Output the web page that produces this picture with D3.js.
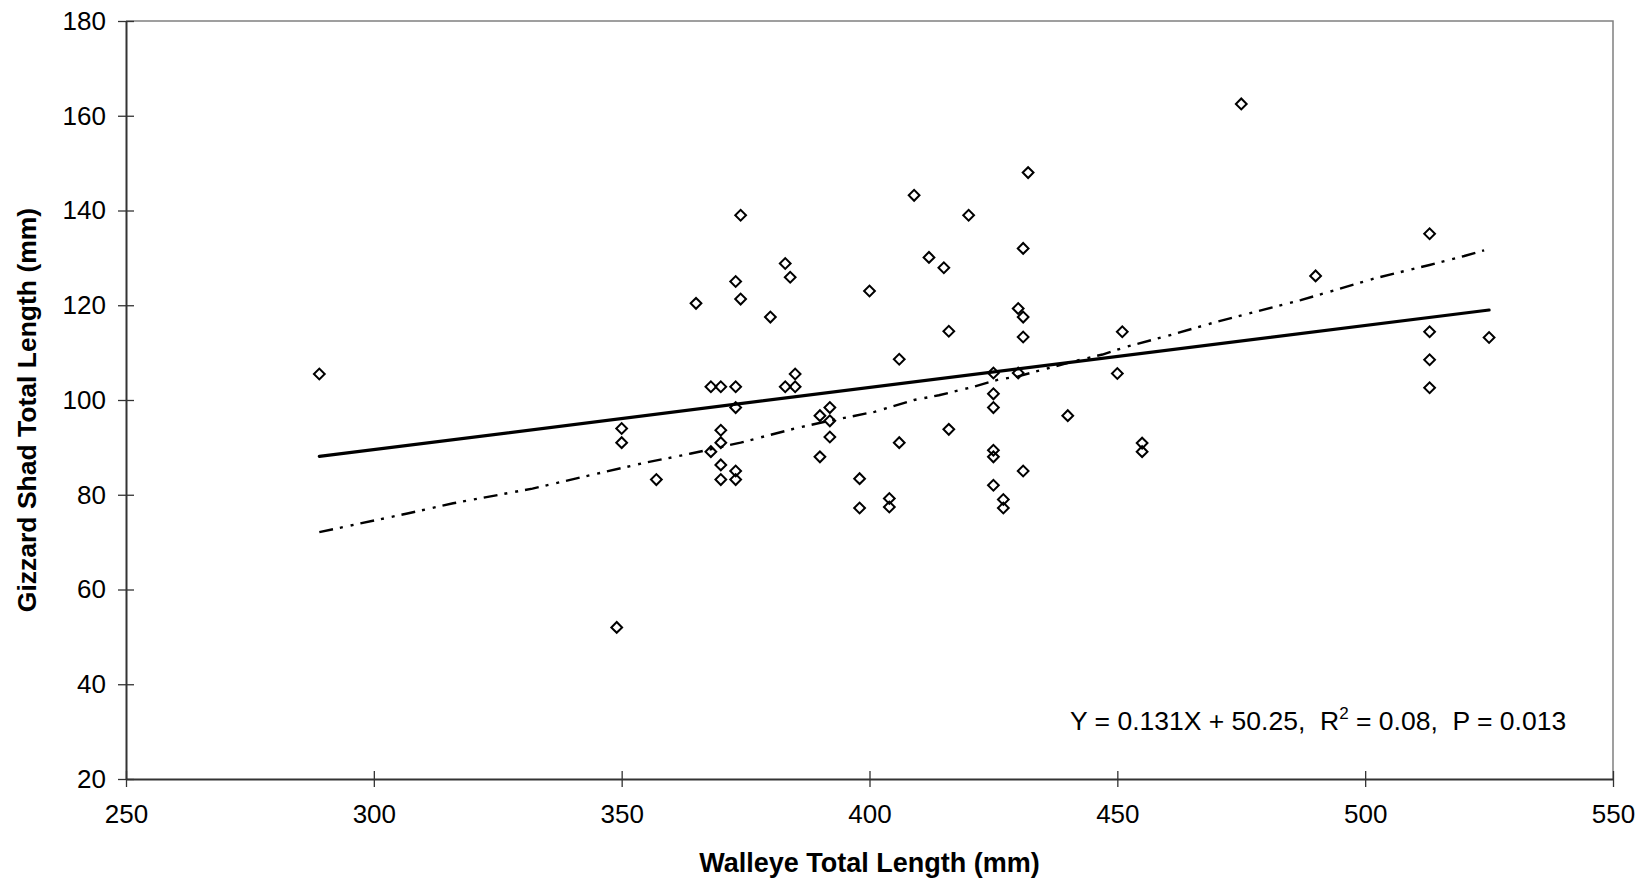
<!DOCTYPE html>
<meta charset="utf-8">
<script src="https://d3js.org/d3.v7.min.js"></script>
<style>
  body { margin: 0; background: #fff; }
  text { font-family: "Liberation Sans", Arial, sans-serif; }
</style>
<div id="chart"></div>
<script>
// walleye total length (x) vs gizzard shad total length (y)
var walleye = [289, 349, 350, 350, 357, 365, 368, 368, 370, 370, 370, 370, 370,
  373, 373, 373, 373, 373, 374, 374, 380, 383, 383, 384, 385, 385, 390, 390,
  392, 392, 392, 398, 398, 400, 404, 404, 406, 406, 409, 412, 415, 416, 416,
  420, 425, 425, 425, 425, 425, 425, 427, 427, 430, 430, 431, 431, 431, 431,
  432, 440, 450, 451, 455, 455, 475, 490, 513, 513, 513, 513, 525];
var shad = [105.5, 52, 94, 91, 83.2, 120.4, 102.8, 89.1, 102.8, 93.6, 91, 86.3, 83.2,
  125, 102.8, 98.4, 85, 83.2, 139, 121.3, 117.5, 128.8, 102.8, 125.9, 105.5, 102.8,
  96.7, 88, 98.4, 95.6, 92.2, 83.4, 77.2, 123, 79.2, 77.4, 108.6, 91, 143.2, 130.1,
  127.9, 114.5, 93.8, 139, 105.7, 101.3, 98.4, 89.4, 88, 82, 79, 77.2, 119.3, 105.7,
  132, 117.5, 113.3, 85, 148, 96.7, 105.6, 114.4, 90.9, 89.1, 162.5, 126.2, 135.1,
  114.4, 108.5, 102.6, 113.2];

// linear fit (solid)
var fitX = [289, 525];
var fitY = [88.1, 119.0];

// smoothed curve (dash-dot)
var smoothX = [289, 307, 316, 332, 344, 354, 364, 374, 385, 391, 401, 409, 414, 421,
  426, 430, 436, 441, 447, 452, 460, 469, 477, 487, 494, 502, 513, 520, 524];
var smoothY = [72.1, 76.1, 78.2, 81.3, 84.2, 86.6, 88.7, 91.0, 94.0, 95.4, 97.5, 100.0,
  101.0, 102.8, 104.3, 105.0, 106.7, 108.1, 109.6, 111.3, 113.5, 116.2, 118.4, 121.1,
  123.2, 125.7, 128.5, 130.4, 131.6];

var xTicks = [250, 300, 350, 400, 450, 500, 550];
var yTicks = [20, 40, 60, 80, 100, 120, 140, 160, 180];

var W = 1646, H = 880;
var margin = {top: 21, right: 33, bottom: 101, left: 126},
    width = W - margin.left - margin.right,
    height = H - margin.top - margin.bottom;

var svg = d3.select("#chart").append("svg")
    .attr("width", W)
    .attr("height", H);

var g = svg.append("g")
    .attr("transform", "translate(" + margin.left + "," + margin.top + ")");

var x = d3.scaleLinear().domain([250, 550]).range([0, width]);
var y = d3.scaleLinear().domain([20, 180]).range([height, 0]);

// plot frame (top and right)
g.append("path")
    .attr("d", "M0,0H" + width + "V" + height)
    .attr("fill", "none")
    .attr("stroke", "#808080")
    .attr("stroke-width", 1.5);

// axes
var yAxis = g.append("g")
    .call(d3.axisLeft(y).tickValues(yTicks).tickSizeInner(8).tickSizeOuter(0).tickPadding(12));
yAxis.selectAll(".tick line").attr("x1", 8);

var xAxis = g.append("g")
    .attr("transform", "translate(0," + height + ")")
    .call(d3.axisBottom(x).tickValues(xTicks).tickSizeInner(8).tickSizeOuter(0).tickPadding(18));
xAxis.selectAll(".tick line").attr("y1", -8);

[xAxis, yAxis].forEach(function(a) {
  a.select(".domain").attr("stroke", "#333").attr("stroke-width", 2);
  a.selectAll(".tick line").attr("stroke", "#333").attr("stroke-width", 1.3);
  a.selectAll(".tick text")
    .attr("fill", "#000")
    .style("font-size", "26px")
    .style("font-family", '"Liberation Sans", Arial, sans-serif');
});

// points
var pts = walleye.map(function(d, i) { return {x: d, y: shad[i]}; });
g.append("g").selectAll("path")
  .data(pts)
  .enter().append("path")
    .attr("d", d3.symbol(d3.symbolSquare).size(58))
    .attr("transform", function(d) {
      return "translate(" + x(d.x) + "," + y(d.y) + ") rotate(45)";
    })
    .attr("fill", "none")
    .attr("stroke", "#000")
    .attr("stroke-width", 2);

// linear fit
g.append("path")
  .datum(fitX.map(function(d, i) { return [d, fitY[i]]; }))
  .attr("fill", "none")
  .attr("stroke", "#000")
  .attr("stroke-width", 3.2)
  .attr("stroke-linecap", "round")
  .attr("d", d3.line()
    .x(function(d) { return x(d[0]); })
    .y(function(d) { return y(d[1]); }));

// smoothed curve
g.append("path")
  .datum(smoothX.map(function(d, i) { return [d, smoothY[i]]; }))
  .attr("fill", "none")
  .attr("stroke", "#000")
  .attr("stroke-width", 2.4)
  .attr("stroke-dasharray", "14,7,3,8,3,7")
  .attr("d", d3.line()
    .x(function(d) { return x(d[0]); })
    .y(function(d) { return y(d[1]); }));

// equation
var eq = svg.append("text")
    .attr("x", 1070)
    .attr("y", 730)
    .style("font-size", "26.5px")
    .style("white-space", "pre")
    .attr("fill", "#000");
eq.append("tspan").text("Y = 0.131X + 50.25,  R");
eq.append("tspan").attr("dy", -11).style("font-size", "17px").text("2");
eq.append("tspan").attr("dy", 11).text(" = 0.08,  P = 0.013");

// axis titles
svg.append("text")
    .attr("x", margin.left + width / 2)
    .attr("y", 872)
    .attr("text-anchor", "middle")
    .style("font-size", "27px")
    .style("font-weight", "bold")
    .text("Walleye Total Length (mm)");

svg.append("text")
    .attr("transform", "translate(36," + (margin.top + height / 2 + 10) + ") rotate(-90)")
    .attr("text-anchor", "middle")
    .style("font-size", "26.5px")
    .style("font-weight", "bold")
    .text("Gizzard Shad Total Length (mm)");
</script>
